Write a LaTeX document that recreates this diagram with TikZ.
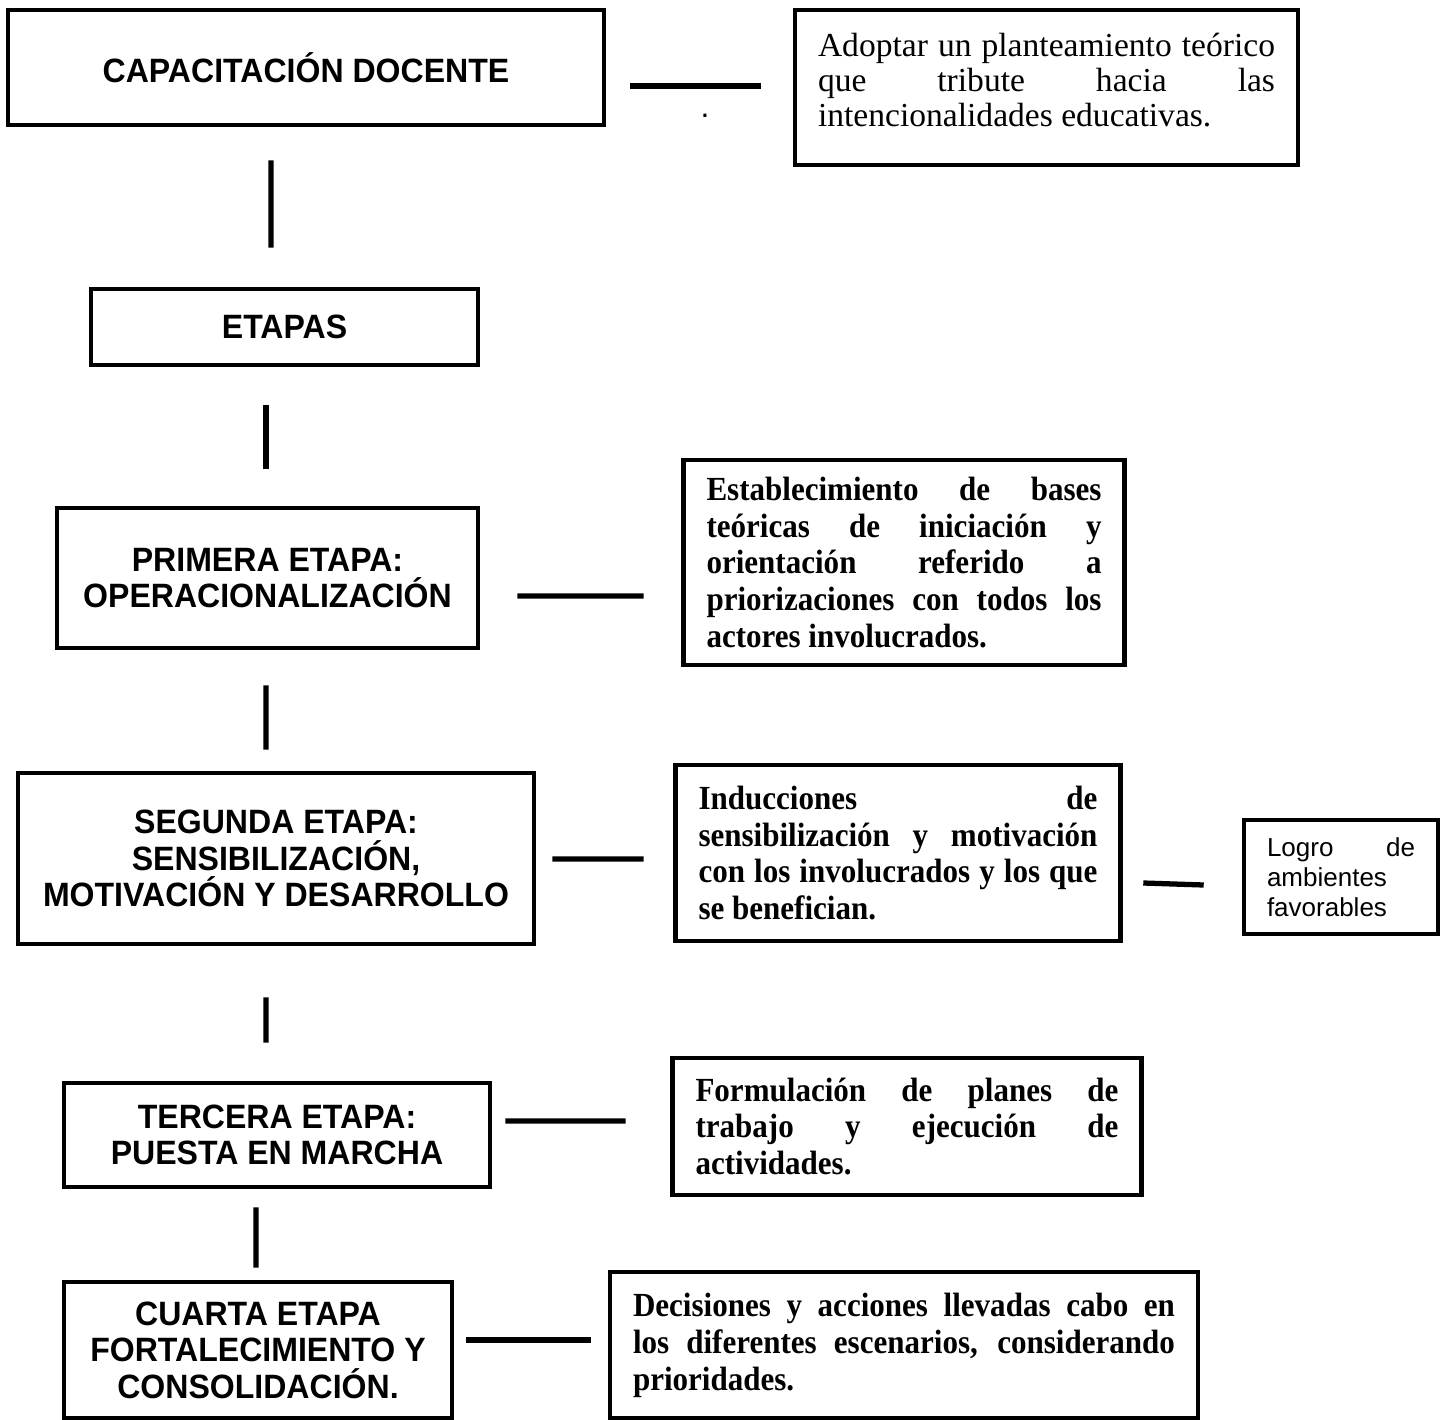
\documentclass[tikz,border=0pt]{standalone}
\usepackage{fontspec}
\setmainfont{Liberation Serif}
\setsansfont{Liberation Sans}
\newfontfamily\notefont{Liberation Serif}[FakeStretch=0.92]
\newfontfamily\stagefont{Liberation Sans}[FakeStretch=0.95]
\usetikzlibrary{positioning,calc}

\begin{document}
\begin{tikzpicture}[semithick,
                    stage/.style = {rectangle,
                                    draw,
                                    line width = 1.3pt,
                                    align = center,
                                    font = \stagefont\bfseries\fontsize{9.6pt}{10.4pt}\selectfont},
                    note/.style  = {rectangle,
                                    draw,
                                    line width = 1.3pt,
                                    inner xsep = 0.23cm,
                                    align = justify,
                                    execute at begin node = {\tolerance=10000\hyphenpenalty=10000},
                                    font = \notefont\bfseries\fontsize{9.6pt}{10.5pt}\selectfont},
                    bar/.style   = {line width = 1.5pt}]

\useasboundingbox (0,0) rectangle (14.48,-14.20);

\node[stage, minimum width = 5.96cm, minimum height = 1.15cm] (cap) at (3.06,-0.675) {CAPACITACIÓN DOCENTE};
\node[stage, minimum width = 3.87cm, minimum height = 0.76cm] (etapas) at (2.845,-3.27) {ETAPAS};
\node[stage, minimum width = 4.21cm, minimum height = 1.40cm] (primera) at (2.675,-5.78) {PRIMERA ETAPA:\\ OPERACIONALIZACIÓN};
\node[stage, minimum width = 5.16cm, minimum height = 1.71cm] (segunda) at (2.76,-8.585) {SEGUNDA ETAPA:\\ SENSIBILIZACIÓN,\\ MOTIVACIÓN Y DESARROLLO};
\node[stage, minimum width = 4.26cm, minimum height = 1.04cm] (tercera) at (2.77,-11.35) {TERCERA ETAPA:\\ PUESTA EN MARCHA};
\node[stage, minimum width = 3.88cm, minimum height = 1.36cm] (cuarta) at (2.58,-13.50) {CUARTA ETAPA\\ FORTALECIMIENTO Y\\ CONSOLIDACIÓN.};

\node[note, text width = 4.57cm, minimum height = 1.55cm, text depth = 24.5pt,
      font = \rmfamily\fontsize{9.55pt}{10pt}\selectfont] (adopt) at (10.465,-0.875)
     {Adoptar un planteamiento teórico\linebreak que tribute hacia las\linebreak intencionalidades educativas.};
\node[note, text width = 3.95cm, minimum height = 2.05cm] (estab) at (9.04,-5.625)
     {Establecimiento de bases\linebreak teóricas de iniciación y\linebreak orientación referido a\linebreak priorizaciones con todos los\linebreak actores involucrados.};
\node[note, text width = 3.99cm, minimum height = 1.76cm] (induc) at (8.98,-8.53)
     {Inducciones de\linebreak sensibilización y motivación\linebreak con los involucrados y los que\linebreak se benefician.};
\node[note, text width = 1.48cm, minimum height = 1.14cm,
      font = \sffamily\fontsize{7.4pt}{8.5pt}\selectfont] (logro) at (13.41,-8.77)
     {Logro de\linebreak ambientes\linebreak favorables};
\node[note, text width = 4.23cm, minimum height = 1.37cm] (formul) at (9.07,-11.265)
     {Formulación de planes de\linebreak trabajo y ejecución de\linebreak actividades.};
\node[note, text width = 5.42cm, minimum height = 1.46cm] (decis) at (9.04,-13.45)
     {Decisiones y acciones llevadas cabo en\linebreak los diferentes escenarios, considerando\linebreak prioridades.};

\node[font = \sffamily\fontsize{9pt}{10pt}\selectfont] (dot) at (7.05,-1.16) {.};

\path ($(cap.south)+(-0.35,-0.33)$) edge[bar] ($(etapas.north)+(-0.135,0.39)$);
\path ($(etapas.south)+(-0.185,-0.38)$) edge[bar] ($(primera.north)+(-0.015,0.37)$);
\path ($(primera.south)+(-0.015,-0.35)$) edge[bar] ($(segunda.north)+(-0.10,0.21)$);
\path ($(segunda.south)+(-0.10,-0.51)$) edge[bar] ($(tercera.north)+(-0.11,0.38)$);
\path ($(tercera.south)+(-0.21,-0.18)$) edge[bar] ($(cuarta.north)+(-0.02,0.12)$);

\path ($(cap.east)+(0.24,-0.185)$) edge[bar] ($(adopt.west)+(-0.32,0.015)$);
\path ($(primera.east)+(0.37,-0.18)$) edge[bar] ($(estab.west)+(-0.375,-0.335)$);
\path ($(segunda.east)+(0.16,-0.005)$) edge[bar] ($(induc.west)+(-0.295,-0.06)$);
\path ($(induc.east)+(0.205,-0.30)$) edge[bar] ($(logro.west)+(-0.38,-0.08)$);
\path ($(tercera.east)+(0.13,0.14)$) edge[bar] ($(formul.west)+(-0.445,0.055)$);
\path ($(cuarta.east)+(0.12,0.10)$) edge[bar] ($(decis.west)+(-0.17,0.05)$);

\end{tikzpicture}
\end{document}
